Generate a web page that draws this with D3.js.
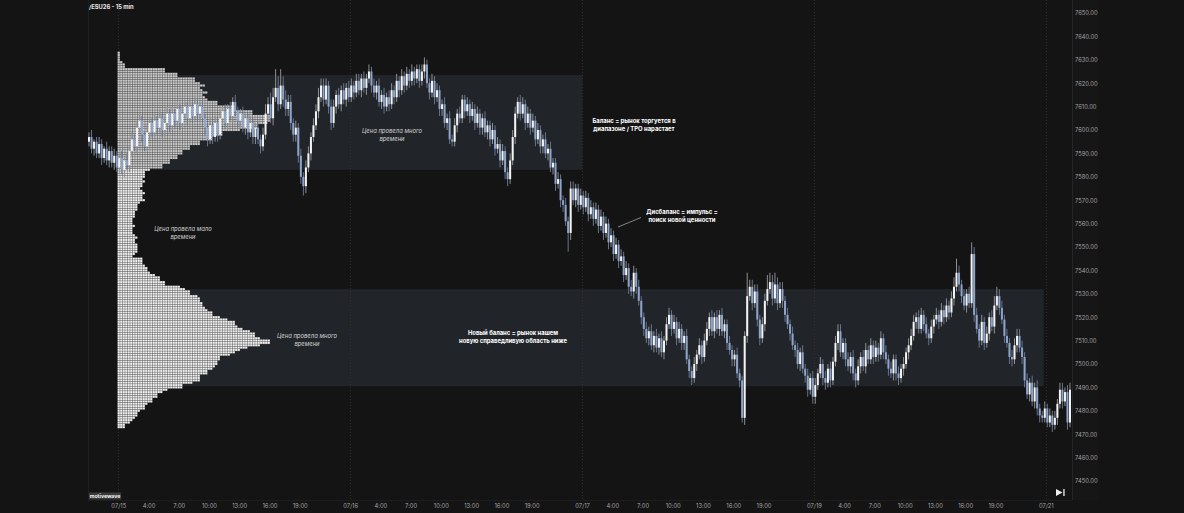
<!DOCTYPE html>
<html>
<head>
<meta charset="utf-8">
<script src="https://cdn.jsdelivr.net/npm/d3@7"></script>
<style>
  body { margin: 0; background: #141414; }
  svg { display: block; }
  text { font-family: Inter, "Noto Sans", sans-serif; }
</style>
</head>
<body>
<svg id="chart" width="1184" height="513"></svg>
<script>
// 15-min closes, bar by bar (07/14 late bars, then sessions 07/15 .. 07/21)
var firstOpen = 7595;
var closes = [
  7597, 7592, 7595, 7590, 7594, 7588, 7592, 7587, 7591, 7586,
  7589, 7584, 7588, 7583, 7587, 7585, 7591, 7596, 7593, 7601,
  7604, 7598, 7593, 7599, 7603, 7599, 7604, 7601, 7605, 7600,
  7603, 7607, 7602, 7607, 7604, 7609, 7603, 7607, 7610, 7605,
  7610, 7606, 7611, 7607, 7610, 7605, 7601, 7596, 7602, 7597,
  7603, 7598, 7605, 7608, 7603, 7609, 7606, 7612, 7608, 7604,
  7607, 7601, 7605, 7599, 7603, 7597, 7601, 7596, 7593, 7598,
  7607, 7611, 7605, 7614, 7618, 7611, 7619, 7613, 7609, 7612,
  7603, 7598, 7601, 7589, 7580, 7576, 7584, 7590, 7597, 7602,
  7608, 7614, 7619, 7613, 7619, 7610, 7603, 7610, 7615, 7611,
  7617, 7613, 7618, 7614, 7619, 7616, 7621, 7617, 7622, 7618,
  7622, 7625, 7619, 7616, 7619, 7612, 7615, 7610, 7614, 7611,
  7617, 7614, 7621, 7617, 7623, 7619, 7624, 7621, 7625, 7622,
  7626, 7621, 7625, 7628, 7620, 7616, 7621, 7614, 7617, 7609,
  7611, 7603, 7605, 7596, 7595, 7602, 7607, 7605, 7613, 7608,
  7611, 7606, 7609, 7603, 7607, 7601, 7605, 7599, 7602, 7596,
  7600, 7592, 7594, 7587, 7591, 7582, 7579, 7587, 7597, 7607,
  7612, 7607, 7611, 7603, 7607, 7601, 7604, 7596, 7600, 7593,
  7596, 7590, 7592, 7584, 7586, 7577, 7579, 7570, 7568, 7561,
  7556, 7575, 7570, 7575, 7568, 7572, 7567, 7571, 7564, 7567,
  7562, 7566, 7559, 7563, 7556, 7560, 7552, 7555, 7547, 7551,
  7544, 7546, 7538, 7541, 7533, 7531, 7539, 7533, 7527, 7520,
  7515, 7511, 7514, 7508, 7512, 7507, 7511, 7505, 7510, 7517,
  7521, 7515, 7518, 7511, 7515, 7509, 7512, 7502, 7497, 7494,
  7500, 7504, 7508, 7503, 7510, 7515, 7520, 7514, 7520, 7515,
  7521, 7514, 7517, 7509, 7506, 7502, 7504, 7496, 7493, 7477,
  7512, 7529, 7533, 7526, 7531, 7519, 7511, 7517, 7527, 7532,
  7535, 7528, 7534, 7526, 7532, 7527, 7521, 7517, 7513, 7508,
  7506, 7500, 7505, 7498, 7495, 7489, 7494, 7486, 7491, 7496,
  7500, 7494, 7492, 7498, 7493, 7501, 7509, 7514, 7505, 7509,
  7502, 7499, 7503, 7496, 7493, 7499, 7503, 7499, 7506, 7502,
  7508, 7503, 7507, 7504, 7511, 7505, 7502, 7498, 7496, 7502,
  7496, 7494, 7498, 7500, 7505, 7508, 7512, 7518, 7520, 7515,
  7521, 7517, 7513, 7511, 7516, 7519, 7521, 7518, 7523, 7520,
  7525, 7522, 7528, 7533, 7539, 7534, 7529, 7525, 7530, 7526,
  7547, 7521, 7515, 7510, 7518, 7509, 7513, 7520, 7516, 7525,
  7529, 7524, 7519, 7512, 7509, 7503, 7502, 7508, 7512, 7507,
  7503, 7493, 7487, 7492, 7484, 7490, 7481, 7478, 7477, 7481,
  7475, 7478, 7474, 7477, 7483, 7489, 7484, 7488, 7475, 7489
];
// wick length above / below the body, points
var wickUp = [
  2, 3, 1, 2, 3, 2, 1, 3, 2, 2,   3, 2, 2, 3, 1, 3, 2, 3, 2, 3,
  3, 2, 1, 3, 2, 2, 3, 2, 3, 2,   2, 3, 2, 3, 2, 3, 2, 3, 2, 2,
  3, 2, 3, 2, 2, 3, 2, 2, 3, 2,   3, 2, 3, 2, 3, 2, 3, 2, 3, 2,
  2, 3, 2, 2, 3, 2, 2, 3, 2, 3,   4, 3, 5, 4, 8, 5, 7, 4, 4, 3,
  3, 2, 3, 2, 3, 2, 3, 3, 2, 3,   3, 4, 3, 3, 3, 2, 3, 3, 2, 3,
  2, 3, 2, 3, 3, 2, 3, 3, 2, 3,   2, 3, 2, 3, 2, 3, 2, 3, 2, 3,
  3, 2, 3, 2, 3, 2, 3, 2, 3, 2,   2, 2, 3, 3, 2, 2, 3, 2, 3, 2,
  2, 3, 2, 3, 2, 3, 2, 3, 2, 2,   3, 2, 3, 2, 3, 2, 2, 3, 2, 2,
  3, 2, 3, 2, 3, 2, 2, 3, 3, 3,   2, 3, 3, 2, 3, 2, 3, 2, 3, 2,
  2, 3, 2, 3, 2, 2, 3, 2, 2, 3,   2, 3, 3, 2, 2, 3, 2, 3, 2, 3,
  2, 3, 2, 3, 2, 3, 2, 3, 2, 3,   2, 3, 2, 3, 2, 3, 3, 2, 3, 2,
  2, 3, 2, 3, 2, 3, 2, 3, 2, 3,   3, 2, 3, 2, 3, 2, 2, 3, 2, 2,
  3, 2, 3, 2, 3, 3, 2, 3, 2, 3,   2, 3, 2, 2, 3, 2, 2, 3, 2, 2,
  2, 10, 3, 3, 3, 3, 2, 3, 3, 6,  4, 3, 5, 3, 3, 3, 2, 3, 2, 3,
  2, 3, 2, 3, 2, 3, 2, 3, 3, 2,   3, 2, 3, 2, 3, 2, 3, 3, 3, 2,
  2, 3, 2, 3, 2, 3, 2, 3, 3, 2,   3, 2, 3, 2, 3, 2, 3, 2, 3, 2,
  2, 3, 2, 3, 2, 3, 3, 3, 2, 3,   3, 2, 3, 2, 3, 2, 3, 2, 3, 2,
  3, 2, 3, 4, 6, 3, 2, 3, 2, 3,   5, 3, 3, 2, 3, 2, 3, 2, 3, 4,
  4, 3, 3, 2, 3, 2, 3, 3, 3, 3,   3, 2, 3, 2, 3, 2, 3, 2, 2, 3,
  2, 3, 2, 3, 2, 3, 3, 2, 3, 3
];
var wickDn = [
  2, 2, 3, 2, 2, 3, 2, 2, 3, 2,   3, 2, 3, 2, 3, 2, 3, 2, 2, 3,
  2, 3, 2, 2, 3, 2, 2, 3, 2, 3,   3, 2, 3, 2, 3, 2, 3, 2, 2, 3,
  2, 3, 2, 3, 3, 2, 3, 3, 2, 3,   2, 3, 2, 3, 2, 3, 2, 3, 2, 3,
  3, 2, 3, 3, 2, 3, 3, 2, 3, 2,   2, 3, 2, 3, 2, 3, 2, 3, 3, 3,
  3, 3, 3, 3, 3, 4, 3, 2, 3, 2,   2, 3, 2, 3, 2, 3, 3, 2, 3, 2,
  3, 2, 3, 2, 2, 3, 2, 2, 3, 2,   3, 2, 3, 2, 3, 2, 3, 3, 2, 3,
  2, 3, 2, 3, 2, 3, 2, 3, 2, 3,   2, 3, 2, 3, 2, 3, 2, 3, 2, 3,
  3, 2, 3, 2, 2, 2, 3, 2, 2, 3,   2, 3, 2, 3, 2, 3, 3, 2, 3, 3,
  2, 3, 2, 3, 2, 3, 3, 2, 2, 3,   2, 3, 2, 3, 2, 3, 2, 3, 2, 3,
  3, 2, 3, 2, 3, 3, 2, 3, 3, 2,   8, 3, 2, 3, 3, 2, 3, 2, 3, 2,
  3, 2, 3, 2, 3, 2, 3, 2, 3, 2,   3, 2, 3, 2, 3, 2, 3, 3, 2, 3,
  3, 2, 3, 2, 3, 2, 3, 2, 3, 2,   2, 3, 2, 3, 2, 3, 3, 2, 3, 3,
  2, 3, 2, 3, 2, 2, 3, 2, 3, 2,   3, 2, 3, 3, 2, 3, 3, 2, 3, 2,
  3, 3, 2, 3, 2, 3, 3, 2, 3, 2,   2, 3, 2, 3, 2, 3, 3, 2, 3, 2,
  3, 2, 3, 2, 3, 3, 2, 3, 3, 2,   2, 3, 3, 2, 3, 2, 2, 3, 2, 3,
  3, 2, 3, 3, 3, 2, 3, 2, 3, 2,   2, 3, 2, 3, 2, 3, 2, 3, 2, 3,
  3, 3, 2, 3, 2, 3, 2, 2, 3, 2,   2, 3, 2, 3, 2, 3, 2, 3, 2, 3,
  2, 3, 2, 3, 2, 3, 3, 2, 3, 2,   2, 3, 2, 3, 2, 3, 2, 3, 2, 3,
  2, 3, 2, 3, 2, 3, 3, 2, 3, 2,   3, 3, 2, 3, 2, 3, 3, 3, 2, 2,
  2, 2, 3, 2, 3, 2, 3, 2, 3, 2
];

// TPO profile: count of periods per 1-point row, from 7633 downwards
var tpoTop = 7633;
var tpoCounts = [
  1, 1, 1, 1, 2, 3, 3, 19, 19, 24,
  24, 31, 31, 33, 35, 33, 34, 36, 34, 35,
  36, 40, 40, 47, 47, 54, 54, 61, 61, 61,
  60, 56, 56, 49, 42, 42, 38, 38, 33, 33,
  29, 29, 26, 26, 24, 24, 21, 21, 18, 18,
  13, 11, 11, 11, 10, 11, 10, 10, 9, 10,
  11, 10, 10, 11, 9, 8, 8, 8, 7, 7,
  7, 6, 6, 6, 7, 6, 6, 6, 7, 8,
  7, 7, 8, 8, 8, 8, 7, 6, 10, 10,
  10, 11, 12, 12, 13, 15, 17, 17, 19, 19,
  25, 27, 29, 29, 32, 33, 33, 34, 34, 35,
  36, 38, 38, 41, 44, 47, 47, 48, 50, 53,
  55, 55, 57, 61, 61, 57, 52, 49, 47, 45,
  41, 41, 40, 40, 39, 38, 36, 36, 33, 33,
  33, 30, 26, 26, 20, 18, 16, 16, 14, 14,
  12, 11, 11, 9, 8, 8, 7, 6, 5, 3,
  3
];

// balance zones: price range and bar range
var zoneHigh = [7623.5, 7532];
var zoneLow = [7583, 7490.5];
var zoneFrom = [12, 12];
var zoneTo = [196, 379];

var priceTicks = [7450, 7460, 7470, 7480, 7490, 7500, 7510, 7520, 7530, 7540, 7550,
                  7560, 7570, 7580, 7590, 7600, 7610, 7620, 7630, 7640, 7650];
var sessionStarts = [12, 104, 196, 288, 380];
var sessionDates = ["07/15", "07/16", "07/17", "07/19", "07/21"];
var hourLabels = ["4:00", "7:00", "10:00", "13:00", "16:00", "19:00"];

var W = 1184, H = 513;
var svg = d3.select("#chart");
svg.append("rect").attr("width", W).attr("height", H).attr("fill", "#141414");

var x = d3.scaleBand().domain(d3.range(closes.length)).range([88, 1071]).paddingInner(0.2);
var y = d3.scaleLinear().domain([7450, 7650]).range([481, 13]);

// price axis strip
svg.append("rect").attr("x", 1072).attr("y", 0).attr("width", 26).attr("height", 500).attr("fill", "#161616");

// zones
svg.append("g").selectAll("rect")
  .data(zoneHigh)
  .enter().append("rect")
  .attr("x", (d, i) => x(zoneFrom[i]))
  .attr("width", (d, i) => x(zoneTo[i]) - x(zoneFrom[i]))
  .attr("y", d => y(d))
  .attr("height", (d, i) => y(zoneLow[i]) - y(d))
  .attr("fill", "#212429");

// frame lines
svg.append("line").attr("x1", 88.5).attr("x2", 88.5).attr("y1", 0).attr("y2", 500).attr("stroke", "#1f1f1f");
svg.append("line").attr("x1", 1072.5).attr("x2", 1072.5).attr("y1", 0).attr("y2", 500).attr("stroke", "#262626");
svg.append("line").attr("x1", 88).attr("x2", 1072).attr("y1", 500.5).attr("y2", 500.5).attr("stroke", "#1d1d1d");

// session separators
svg.append("g").selectAll("line")
  .data(sessionStarts)
  .enter().append("line")
  .attr("x1", d => Math.round(x(d)) + 0.5)
  .attr("x2", d => Math.round(x(d)) + 0.5)
  .attr("y1", 0).attr("y2", 500)
  .attr("stroke", "#2e2e2e")
  .attr("stroke-dasharray", "1,2");

// TPO profile: grey row underlay, light cells on top
var tpoX = d3.scaleLinear().domain([0, 61]).range([117.5, 270]);
var cellW = tpoX(1) - tpoX(0);
var rows = tpoCounts.map((n, r) => ({ lvl: tpoTop - r, n: n }));
var cells = [];
rows.forEach(function (row) {
  for (var j = 0; j < row.n; j++) cells.push({ lvl: row.lvl, j: j });
});
var tg = svg.append("g");
tg.selectAll("rect.row")
  .data(rows)
  .enter().append("rect")
  .attr("class", "row")
  .attr("x", tpoX(0))
  .attr("width", d => tpoX(d.n) - tpoX(0))
  .attr("y", d => y(d.lvl + 0.5))
  .attr("height", d => y(d.lvl - 0.5) - y(d.lvl + 0.5))
  .attr("fill", d => d.lvl > 7583 ? "#4c4c4c" : "#5a5a5a");
tg.selectAll("rect.cell")
  .data(cells)
  .enter().append("rect")
  .attr("class", "cell")
  .attr("x", d => tpoX(d.j) + 0.2)
  .attr("width", cellW - 0.45)
  .attr("y", d => y(d.lvl + 0.5) + 0.2)
  .attr("height", d => y(d.lvl - 0.5) - y(d.lvl + 0.5) - 0.45)
  .attr("fill", d => d.lvl > 7583 ? "#cdcdcd" : "#f2f2f2");

// candles
var candles = closes.map(function (c, i) {
  var o = i === 0 ? firstOpen : closes[i - 1];
  return { i: i, o: o, c: c, h: Math.max(o, c) + wickUp[i], l: Math.min(o, c) - wickDn[i] };
});
var bw = x.bandwidth();
var cg = svg.append("g");
cg.selectAll("line")
  .data(candles)
  .enter().append("line")
  .attr("x1", d => x(d.i) + bw / 2)
  .attr("x2", d => x(d.i) + bw / 2)
  .attr("y1", d => y(d.h))
  .attr("y2", d => y(d.l))
  .attr("stroke", d => d.c >= d.o ? "#8f8f8f" : "#66758f")
  .attr("stroke-width", 1);
cg.selectAll("rect")
  .data(candles)
  .enter().append("rect")
  .attr("x", d => x(d.i))
  .attr("width", bw)
  .attr("y", d => y(Math.max(d.o, d.c)))
  .attr("height", d => Math.max(0.8, y(Math.min(d.o, d.c)) - y(Math.max(d.o, d.c))))
  .attr("fill", d => d.c >= d.o ? "#f3f3f3" : "#8da5cb");

// price axis
svg.append("g")
  .attr("transform", "translate(1074,0)")
  .call(d3.axisRight(y).tickValues(priceTicks).tickSize(0).tickPadding(1).tickFormat(d3.format(".2f")))
  .call(g => g.select(".domain").remove())
  .selectAll("text")
  .attr("fill", "#a3a3a3")
  .style("font-size", "5.8px");

// time axis
var tickIdx = [], tickText = new Map();
sessionStarts.forEach(function (s, k) {
  tickIdx.push(s);
  tickText.set(s, sessionDates[k]);
  if (k < sessionStarts.length - 1) {
    hourLabels.forEach(function (h, m) {
      tickIdx.push(s + 12 * (m + 1));
      tickText.set(s + 12 * (m + 1), h);
    });
  }
});
var xt = d3.scaleLinear().domain([0, closes.length]).range([88, 1071]);
svg.append("g")
  .attr("transform", "translate(0,501)")
  .call(d3.axisBottom(xt).tickValues(tickIdx).tickSize(0).tickPadding(3).tickFormat(d => tickText.get(d)))
  .call(g => g.select(".domain").remove())
  .selectAll("text")
  .attr("fill", "#a3a3a3")
  .style("font-size", "5.8px");

// title
svg.append("text").attr("x", 89).attr("y", 8.5)
  .attr("fill", "#e6e6e6").style("font-size", "5.8px").style("font-weight", 700)
  .text("/ESU26 - 15 min");

// annotations
function note(lines, cx, top, bold) {
  var t = svg.append("text")
    .attr("text-anchor", "middle")
    .attr("fill", bold ? "#ffffff" : "#d2d2d2")
    .style("font-size", "5.9px")
    .style("font-weight", bold ? 700 : 400)
    .style("font-style", bold ? "normal" : "italic");
  lines.forEach(function (s, k) {
    t.append("tspan").attr("x", cx).attr("y", top + k * 8).text(s);
  });
}
note(["Цена провела много", "времени"], 392, 132.5, false);
note(["Цена провела мало", "времени"], 183, 231, false);
note(["Цена провела много", "времени"], 307, 337.5, false);
note(["Баланс = рынок торгуется в", "диапазоне / TPO нарастает"], 634, 123, true);
note(["Дисбаланс = импульс =", "поиск новой ценности"], 682, 213.5, true);
note(["Новый баланс = рынок нашем", "новую справедливую область ниже"], 513, 335, true);

svg.append("line").attr("x1", 618).attr("y1", 227).attr("x2", 641).attr("y2", 217.5)
  .attr("stroke", "#a0a0a0").attr("stroke-width", 0.8);

// badge
svg.append("rect").attr("x", 89).attr("y", 492.5).attr("width", 32).attr("height", 7).attr("fill", "#3b3b3b");
svg.append("text").attr("x", 105).attr("y", 498.2).attr("text-anchor", "middle")
  .attr("fill", "#f0f0f0").style("font-size", "5.2px").style("font-weight", 700).text("motivewave");

// go-to-end button
svg.append("path").attr("d", "M1056,489 L1062.5,492.5 L1056,496 Z").attr("fill", "#eeeeee");
svg.append("rect").attr("x", 1063.3).attr("y", 489).attr("width", 1.3).attr("height", 7).attr("fill", "#eeeeee");
</script>
</body>
</html>
